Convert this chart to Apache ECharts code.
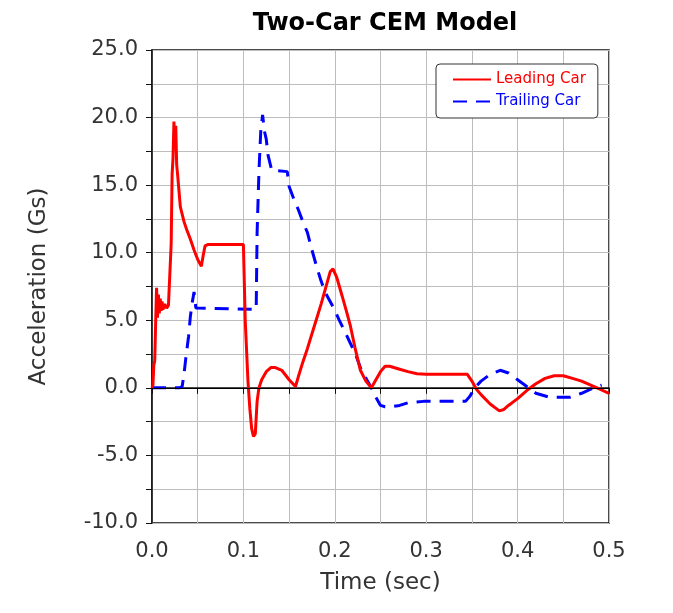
<!DOCTYPE html>
<html><head><meta charset="utf-8">
<script src="https://cdn.jsdelivr.net/npm/echarts@6/dist/echarts.min.js"></script>
<style>html,body{margin:0;padding:0;background:#fff}#c{width:673px;height:613px}</style>
</head><body><div id="c"></div>
<script>
var titleText = "Two-Car CEM Model";
var xName = "Time (sec)";
var yName = "Acceleration (Gs)";
var seriesNames = ["Leading Car", "Trailing Car"];

var leadT = [0.000,0.001,0.002,0.003,0.004,0.005,0.006,0.007,0.008,0.009,0.010,0.011,0.012,0.014,0.016,0.018,0.020,0.021,0.022,0.023,0.024,0.025,0.026,0.027,0.028,0.031,0.035,0.038,0.042,0.046,0.050,0.054,0.056,0.058,0.061,0.100,0.102,0.105,0.107,0.109,0.111,0.113,0.115,0.117,0.120,0.125,0.130,0.135,0.142,0.150,0.157,0.160,0.165,0.170,0.175,0.180,0.185,0.190,0.195,0.198,0.202,0.208,0.213,0.217,0.222,0.228,0.234,0.240,0.245,0.250,0.255,0.260,0.270,0.280,0.290,0.300,0.320,0.345,0.350,0.355,0.360,0.370,0.380,0.385,0.390,0.400,0.410,0.420,0.430,0.440,0.450,0.460,0.470,0.480,0.490,0.500];
var leadG = [0.0,0.2,1.7,2.0,4.8,7.4,5.2,6.9,5.5,6.6,5.7,6.4,5.8,6.2,5.9,6.1,6.1,10.7,15.8,17.0,19.7,18.0,19.4,16.5,15.8,13.4,12.3,11.7,11.0,10.2,9.5,9.0,9.8,10.5,10.6,10.6,5.0,0.5,-1.5,-3.0,-3.6,-3.4,-1.0,0.0,0.6,1.2,1.5,1.5,1.3,0.6,0.1,0.8,1.9,2.9,4.0,5.1,6.2,7.4,8.6,8.8,8.2,6.8,5.6,4.6,3.0,1.3,0.5,0.0,0.6,1.2,1.6,1.6,1.4,1.2,1.05,1.0,1.0,1.0,0.5,-0.1,-0.5,-1.2,-1.7,-1.6,-1.3,-0.8,-0.2,0.3,0.7,0.9,0.9,0.7,0.5,0.2,-0.1,-0.4];

var trailT = [0.000,0.010,0.020,0.030,0.033,0.035,0.037,0.040,0.042,0.044,0.046,0.048,0.050,0.114,0.115,0.117,0.119,0.121,0.123,0.125,0.127,0.131,0.148,0.150,0.155,0.160,0.165,0.170,0.175,0.180,0.185,0.190,0.198,0.205,0.210,0.217,0.222,0.228,0.235,0.240,0.245,0.250,0.255,0.262,0.271,0.280,0.297,0.343,0.348,0.353,0.360,0.370,0.381,0.390,0.400,0.410,0.414,0.420,0.435,0.450,0.457,0.470,0.480,0.487,0.492];
var trailG = [0.0,0.0,0.0,0.0,0.1,1.0,2.2,3.8,5.3,6.3,7.1,5.9,5.8,5.8,11.5,16.0,19.0,20.2,19.0,18.4,17.2,16.1,16.0,14.9,14.0,13.2,12.3,11.5,10.2,9.0,7.9,7.0,6.0,5.0,4.3,3.3,2.6,1.5,0.6,0.0,-0.7,-1.3,-1.4,-1.4,-1.3,-1.1,-1.0,-1.0,-0.6,0.0,0.5,1.0,1.3,1.1,0.6,0.1,-0.1,-0.4,-0.7,-0.7,-0.7,-0.4,-0.1,0.1,0.2];

function pairs(t, g) { return t.map(function (v, i) { return [v, g[i]]; }); }

var FONT = "DejaVu Sans";
var chart = echarts.init(document.getElementById('c'));
chart.setOption({
  animation: false,
  backgroundColor: '#fff',
  title: { text: titleText, left: 380, textAlign: 'center', top: 7,
    textStyle: { fontFamily: FONT, fontSize: 24, fontWeight: 'bold', color: '#000' } },
  grid: { left: 152, right: 64, top: 50, bottom: 90, show: true, borderColor: '#111', borderWidth: 1.5 },
  legend: {
    left: 436, top: 64, orient: 'vertical',
    padding: [8, 12, 9, 16], itemGap: 7, itemWidth: 38, itemHeight: 14,
    borderColor: '#333', borderWidth: 1, borderRadius: 4, backgroundColor: '#fff',
    itemStyle: { opacity: 0 },
    data: [
      { name: seriesNames[0], textStyle: { color: '#ff0000' } },
      { name: seriesNames[1], textStyle: { color: '#0000ff' } }
    ],
    textStyle: { fontFamily: FONT, fontSize: 15 }
  },
  xAxis: {
    type: 'value', min: 0, max: 0.5, interval: 0.05,
    name: xName, nameLocation: 'middle', nameGap: 49,
    nameTextStyle: { fontFamily: FONT, fontSize: 23, color: '#333' },
    axisLine: { lineStyle: { color: '#111', width: 1.5 } },
    axisTick: { show: true, length: 6, lineStyle: { color: '#111' } },
    axisLabel: { margin: 18, fontFamily: FONT, fontSize: 21, color: '#333',
      formatter: function (v) { var k = Math.round(v * 20); return (k % 2 === 0) ? (k / 20).toFixed(1) : ''; } },
    splitLine: { show: true, lineStyle: { color: '#bdbdbd', width: 1 } }
  },
  yAxis: {
    type: 'value', min: -10, max: 25, interval: 2.5,
    name: yName, nameLocation: 'middle', nameGap: 101,
    nameTextStyle: { fontFamily: FONT, fontSize: 23, color: '#333' },
    axisLine: { show: true, lineStyle: { color: '#111', width: 1.5 } },
    axisTick: { show: true, length: 6, lineStyle: { color: '#111' } },
    axisLabel: { margin: 14, fontFamily: FONT, fontSize: 21, color: '#333',
      formatter: function (v) { var k = Math.round(v * 2); return (k % 10 === 0) ? (k / 2).toFixed(1) : ''; } },
    splitLine: { show: true, lineStyle: { color: '#bdbdbd', width: 1 } }
  },
  series: [
    { name: seriesNames[0], type: 'line', symbol: 'none', data: pairs(leadT, leadG),
      color: '#ff0000', lineStyle: { color: '#ff0000', width: 3 }, z: 3,
      markLine: { silent: true, symbol: 'none', label: { show: false },
        lineStyle: { color: '#000', width: 1.2, type: 'solid' }, data: [{ yAxis: 0 }] } },
    { name: seriesNames[1], type: 'line', symbol: 'none', data: pairs(trailT, trailG),
      color: '#0000ff', lineStyle: { color: '#0000ff', width: 3, type: [14, 9] }, z: 2 }
  ]
});
</script></body></html>
